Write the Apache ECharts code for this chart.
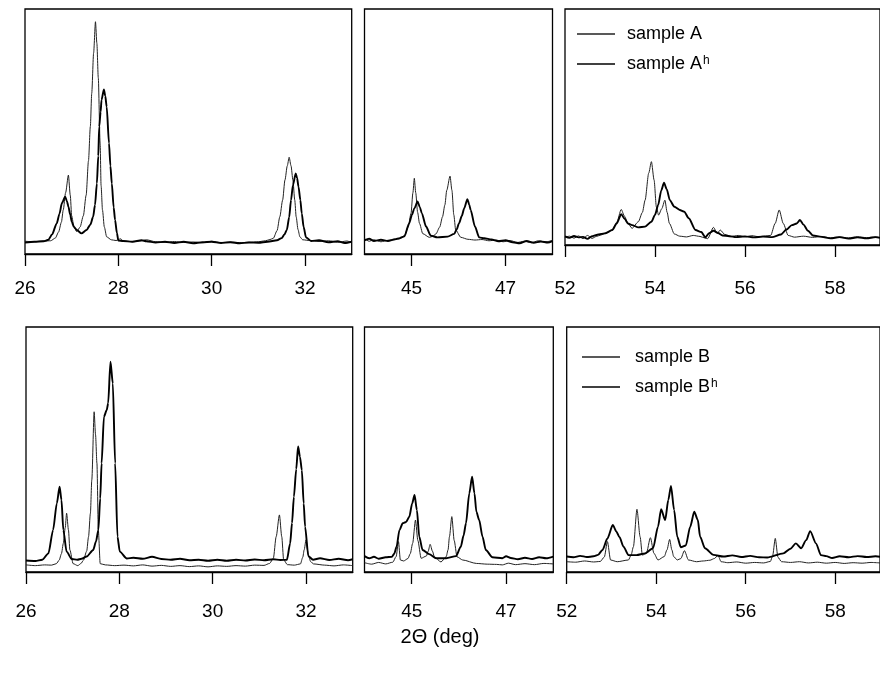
<!DOCTYPE html>
<html>
<head>
<meta charset="utf-8">
<script src="https://cdn.jsdelivr.net/npm/echarts@6/dist/echarts.min.js"></script>
<style>html,body{margin:0;padding:0;background:#fff;}#c{width:880px;height:678px;}</style>
</head>
<body>
<div id="c"></div>
<script>
// ---- tick labels ----
const ticksLeft = [26, 28, 30, 32];
const ticksMid = [45, 47];
const ticksRight = [52, 54, 56, 58];
const xTitle = '2\u0398 (deg)';
const legendTop = ['sample A', 'sample Ah'];
const legendBottom = ['sample B', 'sample Bh'];

// ---- top row: sample A (thin) / sample A^h (thick) ----
const sampleA_1 = [[26.0,5.2],[26.2,5.0],[26.4,5.3],[26.55,5.4],[26.65,6.5],[26.72,9],[26.78,13],[26.82,18],[26.87,25],[26.93,32.2],[26.97,24],[27.0,15.6],[27.05,11],[27.11,9.1],[27.18,11],[27.25,15.6],[27.31,24],[27.36,38],[27.40,52],[27.43,65.6],[27.47,82],[27.51,94.8],[27.54,86],[27.57,72],[27.61,45],[27.63,28],[27.66,18],[27.70,11],[27.75,7],[27.85,5.8],[27.95,5.5],[28.05,6.2],[28.1,5.4],[28.3,5.0],[28.5,5.4],[28.6,5.8],[28.8,5.0],[29.0,4.8],[29.2,5.1],[29.4,4.7],[29.6,4.9],[29.8,4.6],[30.0,5.2],[30.2,4.7],[30.4,4.9],[30.6,4.6],[30.8,4.8],[31.0,5.0],[31.15,5.4],[31.25,5.9],[31.32,6.4],[31.4,9.5],[31.46,15.2],[31.52,22],[31.57,30.2],[31.62,36],[31.66,39.5],[31.70,36],[31.74,30.2],[31.78,22],[31.81,15.2],[31.85,10],[31.89,7],[31.95,5.8],[32.1,5.5],[32.3,5.1],[32.5,5.4],[32.7,4.8],[32.9,5.3],[33.0,4.6]];
const sampleAh_1 = [[26.0,4.7],[26.2,5.0],[26.4,5.2],[26.5,5.8],[26.58,8],[26.68,12.5],[26.74,16.5],[26.79,20.7],[26.86,23.4],[26.9,21.5],[26.93,19.3],[26.97,16],[27.0,13.2],[27.05,11],[27.11,9.8],[27.21,8.4],[27.32,9.8],[27.4,12],[27.46,15.2],[27.5,20],[27.54,28.8],[27.57,40],[27.59,52],[27.62,58],[27.64,62.9],[27.69,67.2],[27.72,64.5],[27.75,60.1],[27.80,45.2],[27.83,36],[27.86,28.8],[27.9,19],[27.93,13.9],[27.97,8.5],[28.0,5.5],[28.1,5.3],[28.3,5.0],[28.5,5.6],[28.6,5.2],[28.8,4.7],[29.0,5.0],[29.2,4.5],[29.4,5.0],[29.6,4.4],[29.8,4.8],[30.0,5.0],[30.2,4.5],[30.4,4.8],[30.6,4.4],[30.8,4.7],[31.0,4.6],[31.2,5.0],[31.4,5.6],[31.5,6.5],[31.56,8],[31.61,9.8],[31.66,15],[31.70,22],[31.74,28],[31.80,32.9],[31.83,31],[31.86,27.5],[31.9,22],[31.93,16.6],[31.97,11],[32.02,6.8],[32.13,5.3],[32.3,5.6],[32.5,4.8],[32.7,5.2],[32.85,4.5],[33.0,5.0]];
const sampleA_2 = [[44.0,6.3],[44.1,5.2],[44.2,5.8],[44.35,5.0],[44.5,5.6],[44.65,5.9],[44.75,6.2],[44.85,7.5],[44.93,11],[44.99,16.6],[45.03,25],[45.06,30.9],[45.09,25],[45.13,17],[45.17,12.5],[45.24,8.3],[45.38,6.8],[45.45,7.2],[45.52,8.2],[45.6,11],[45.66,15.2],[45.71,20],[45.75,26],[45.82,31.8],[45.86,26],[45.9,16],[45.94,9.8],[46.05,6.8],[46.2,6.0],[46.35,5.7],[46.5,5.9],[46.65,5.4],[46.8,5.7],[46.95,5.0],[47.1,5.5],[47.25,4.7],[47.4,5.2],[47.55,4.6],[47.7,5.4],[47.85,4.9],[48.0,5.6]];
const sampleAh_2 = [[44.0,5.6],[44.1,6.2],[44.2,5.3],[44.35,5.8],[44.5,5.3],[44.65,6.0],[44.75,6.5],[44.85,7.2],[44.95,12.5],[45.01,16],[45.06,18.6],[45.13,21.4],[45.18,19],[45.22,16.6],[45.31,11.2],[45.41,7.5],[45.55,6.8],[45.77,7.1],[45.91,8.2],[45.96,10],[46.01,12.5],[46.07,15.5],[46.12,18.6],[46.19,22.4],[46.23,20],[46.26,17.9],[46.35,11.2],[46.44,6.8],[46.55,6.4],[46.7,5.9],[46.85,5.2],[47.0,5.6],[47.15,4.8],[47.3,4.4],[47.45,5.3],[47.6,4.6],[47.75,5.1],[47.9,4.7],[48.0,5.3]];
const sampleA_3 = [[52.0,6.8],[52.1,7.3],[52.2,6.5],[52.3,7.4],[52.4,6.3],[52.5,7.6],[52.6,6.4],[52.7,7.2],[52.8,7.8],[52.9,8.5],[53.05,9.8],[53.15,13],[53.25,18.2],[53.32,15.5],[53.4,12.5],[53.49,10.5],[53.63,13.2],[53.72,17],[53.78,22],[53.86,33],[53.92,37.7],[53.98,30.2],[54.03,19.3],[54.08,15.9],[54.15,18.5],[54.22,22],[54.27,17],[54.32,12.5],[54.43,8.2],[54.55,7.3],[54.7,7.0],[54.85,7.6],[55.0,7.2],[55.1,6.6],[55.17,6.3],[55.3,10.9],[55.38,8.5],[55.45,9.8],[55.55,8.0],[55.7,7.2],[55.85,7.6],[56.0,7.0],[56.15,7.5],[56.3,7.1],[56.45,7.4],[56.57,7.6],[56.67,12.5],[56.76,18],[56.85,12.5],[56.96,7.6],[57.1,6.9],[57.3,7.3],[57.5,6.8],[57.7,7.2],[57.9,6.6],[58.1,7.0],[58.3,6.6],[58.5,7.1],[58.7,6.7],[58.9,7.0],[59.0,6.8]];
const sampleAh_3 = [[52.0,7.2],[52.1,6.6],[52.2,7.4],[52.3,6.8],[52.4,7.0],[52.5,6.2],[52.6,7.3],[52.7,7.8],[52.8,8.2],[52.9,8.5],[53.05,9.8],[53.15,12.5],[53.25,16.3],[53.32,14.5],[53.4,12.5],[53.49,11.8],[53.63,10.9],[53.78,11.2],[53.92,13.2],[54.0,16],[54.07,20],[54.14,26],[54.2,29.1],[54.26,26.5],[54.33,22],[54.43,19.3],[54.55,18],[54.65,17.3],[54.75,14.6],[54.9,9.8],[55.03,9.0],[55.12,6.8],[55.2,8.5],[55.3,9.5],[55.4,8.6],[55.5,7.6],[55.65,7.3],[55.8,6.9],[56.0,7.2],[56.2,6.8],[56.4,7.1],[56.6,6.9],[56.8,8.0],[56.92,10],[57.04,11.8],[57.15,12.5],[57.22,13.9],[57.3,12],[57.4,9.5],[57.51,7.6],[57.7,7.0],[57.9,6.4],[58.1,6.9],[58.3,6.3],[58.5,6.8],[58.7,6.4],[58.9,6.9],[59.0,6.6]];

// ---- bottom row: sample B (thin) / sample B^h (thick) ----
const sampleB_1 = [[26.0,2.9],[26.2,2.6],[26.4,2.9],[26.55,2.8],[26.65,3.4],[26.71,4.8],[26.76,7.5],[26.80,11.7],[26.84,18],[26.87,24],[26.91,17.1],[26.94,9.0],[27.01,3.4],[27.11,2.6],[27.18,3.5],[27.23,4.8],[27.3,8.5],[27.34,14.4],[27.38,24],[27.41,37.6],[27.46,65.4],[27.49,56],[27.52,44.4],[27.55,17.1],[27.59,3.4],[27.7,2.9],[27.9,2.6],[28.1,2.8],[28.3,2.5],[28.5,2.9],[28.7,2.4],[28.9,2.7],[29.1,2.3],[29.3,2.6],[29.5,2.2],[29.7,2.5],[29.9,2.1],[30.1,2.5],[30.3,2.3],[30.5,2.6],[30.7,2.4],[30.9,2.8],[31.1,2.7],[31.22,3.5],[31.3,5.6],[31.36,14.4],[31.43,23.3],[31.48,14.4],[31.52,5],[31.6,3.0],[31.75,2.8],[31.88,3.3],[31.93,6],[31.96,9],[32.0,13.1],[32.05,6.9],[32.1,4.2],[32.16,3.3],[32.4,2.8],[32.6,2.5],[32.8,2.9],[33.0,2.6]];
const sampleBh_1 = [[26.0,4.7],[26.2,4.5],[26.35,5.0],[26.48,7.6],[26.58,17.1],[26.66,28],[26.72,34.8],[26.76,29.4],[26.80,17.1],[26.87,8.3],[26.98,5.3],[27.1,5.0],[27.19,5.4],[27.3,6.3],[27.44,9.0],[27.5,12.5],[27.55,17.1],[27.59,30],[27.62,44.4],[27.67,63.4],[27.73,66.1],[27.76,68.9],[27.81,85.8],[27.86,77],[27.91,44.4],[27.96,14.4],[28.01,8.3],[28.16,5.5],[28.3,5.8],[28.5,5.4],[28.7,6.2],[28.9,5.3],[29.1,5.0],[29.3,5.4],[29.5,4.8],[29.7,5.0],[29.9,4.6],[30.1,5.0],[30.3,4.6],[30.5,5.0],[30.7,4.7],[30.9,5.1],[31.1,4.8],[31.3,5.2],[31.45,4.9],[31.59,5.0],[31.66,11.7],[31.7,20],[31.74,30.7],[31.79,42],[31.83,51.2],[31.87,47],[31.91,41.6],[31.95,28],[31.98,18.5],[32.05,6.4],[32.15,5.0],[32.3,5.6],[32.5,4.9],[32.7,5.4],[32.9,4.8],[33.0,5.2]];
const sampleB_2 = [[44.0,3.8],[44.15,3.2],[44.3,3.9],[44.45,3.3],[44.6,4.0],[44.67,6.3],[44.72,12.4],[44.76,4.9],[44.83,4.5],[44.92,5.5],[44.97,7.5],[45.02,11.7],[45.08,21.2],[45.13,12.9],[45.2,5.6],[45.31,6.5],[45.35,8.5],[45.39,11.3],[45.44,8.5],[45.48,6.2],[45.62,4.1],[45.73,6.2],[45.77,9],[45.8,14.4],[45.85,22.6],[45.9,12.9],[45.96,6.2],[46.08,4.9],[46.37,3.5],[46.6,3.2],[46.8,3.1],[46.92,2.9],[47.05,3.6],[47.2,3.0],[47.4,3.4],[47.6,3.0],[47.8,3.5],[48.0,3.3]];
const sampleBh_2 = [[44.0,6.5],[44.1,5.6],[44.2,6.2],[44.3,5.4],[44.45,6.0],[44.58,6.2],[44.63,7.5],[44.68,10.3],[44.74,17.1],[44.81,19.9],[44.88,20.4],[44.95,22.6],[45.01,28],[45.06,31.4],[45.11,25.3],[45.16,14.4],[45.23,9.0],[45.37,7.3],[45.52,5.6],[45.73,5.6],[45.94,6.5],[46.04,10.3],[46.1,15],[46.15,19.9],[46.22,32.1],[46.28,38.9],[46.33,32.1],[46.37,24.6],[46.43,21.2],[46.5,14.4],[46.57,9.0],[46.71,6.0],[46.92,5.6],[47.0,6.4],[47.1,5.7],[47.25,5.2],[47.4,5.8],[47.55,5.3],[47.7,6.0],[47.85,5.6],[48.0,6.3]];
const sampleB_3 = [[52.0,4.2],[52.2,4.0],[52.4,4.5],[52.6,4.1],[52.75,4.3],[52.84,6.1],[52.91,12.4],[52.98,4.9],[53.13,4.2],[53.38,4.9],[53.44,7],[53.49,10.3],[53.57,25.6],[53.64,14.4],[53.69,6.9],[53.78,7.6],[53.87,14],[53.95,7.6],[54.04,4.9],[54.18,6.3],[54.24,9],[54.3,13.3],[54.35,9],[54.39,6.3],[54.47,4.9],[54.55,5.5],[54.63,8.7],[54.72,4.9],[54.9,4.2],[55.05,4.5],[55.2,4.8],[55.3,5.5],[55.38,6.8],[55.45,4.2],[55.6,3.8],[55.8,4.1],[56.0,3.6],[56.2,3.9],[56.4,3.7],[56.55,4.3],[56.6,6.5],[56.66,13.7],[56.72,6.0],[56.8,4.2],[57.0,3.9],[57.2,4.2],[57.4,3.7],[57.6,4.0],[57.8,3.6],[58.0,3.9],[58.2,3.5],[58.4,3.8],[58.6,3.6],[58.8,3.9],[59.0,3.7]];
const sampleBh_3 = [[52.0,6.3],[52.15,6.0],[52.3,6.6],[52.45,6.1],[52.6,6.4],[52.7,7.0],[52.8,9.0],[52.91,13.7],[53.03,19.2],[53.11,16.5],[53.18,14.2],[53.27,10.3],[53.38,6.9],[53.56,6.9],[53.75,7.6],[53.93,9.7],[54.04,18.5],[54.11,25.6],[54.2,21.2],[54.27,29.4],[54.33,35.1],[54.4,25.3],[54.47,14.4],[54.55,10.1],[54.66,10.8],[54.76,18.5],[54.85,24.6],[54.93,21.2],[54.98,14.4],[55.09,9.7],[55.28,7.0],[55.5,6.3],[55.7,6.8],[55.9,6.1],[56.1,6.6],[56.3,6.0],[56.48,5.9],[56.84,7.6],[57.0,9.5],[57.12,11.7],[57.24,9.7],[57.35,13],[57.44,16.7],[57.57,11.7],[57.68,6.9],[57.8,6.5],[57.93,5.7],[58.1,6.4],[58.3,6.0],[58.5,6.5],[58.7,6.1],[58.9,6.4],[59.0,6.2]];

const FONT = '"Liberation Sans", Arial, sans-serif';
const chart = echarts.init(document.getElementById('c'), null, {renderer: 'canvas'});

const grids = [
  {left: 25, top: 9, width: 326.7, height: 245},
  {left: 364.5, top: 9, width: 188, height: 245},
  {left: 565, top: 9, width: 322, height: 236},
  {left: 26, top: 327, width: 326.7, height: 245},
  {left: 364.5, top: 327, width: 188.8, height: 245},
  {left: 566.7, top: 327, width: 320.8, height: 245}
].map(g => Object.assign(g, {show: true, borderColor: '#000', borderWidth: 1.3, backgroundColor: 'transparent', containLabel: false}));

const ranges = [[26, 33, ticksLeft], [44, 48, ticksMid], [52, 59, ticksRight]];
const labelMargins = [25, 25, 34, 30, 30, 30];

const xAxes = grids.map((g, i) => {
  const r = ranges[i % 3];
  return {
    type: 'value', gridIndex: i, min: r[0], max: r[1],
    axisLine: {show: true, onZero: false, lineStyle: {color: '#000', width: 1.3}},
    axisTick: {show: true, length: 12, lineStyle: {color: '#000', width: 1.3}, customValues: r[2]},
    axisLabel: {show: true, customValues: r[2], color: '#000', fontSize: 19, fontFamily: FONT, margin: labelMargins[i]},
    splitLine: {show: false}
  };
});
const yAxes = grids.map((g, i) => ({
  type: 'value', gridIndex: i, show: false,
  min: i === 2 ? 3.7 : 0, max: 100,
  splitLine: {show: false}
}));

const thin = {color: '#222', width: 1};
const thick = {color: '#000', width: 1.9};
function mk(name, data, idx, style) {
  return {type: 'line', name: name, data: data, xAxisIndex: idx, yAxisIndex: idx,
    symbol: 'none', showSymbol: false, smooth: 0.25, smoothMonotone: 'x',
    lineStyle: style, itemStyle: {color: style.color},
    animation: false, silent: true};
}
const series = [
  mk('sample A', sampleA_1, 0, thin), mk('sample Ah', sampleAh_1, 0, thick),
  mk('sample A', sampleA_2, 1, thin), mk('sample Ah', sampleAh_2, 1, thick),
  mk('sample A', sampleA_3, 2, thin), mk('sample Ah', sampleAh_3, 2, thick),
  mk('sample B', sampleB_1, 3, thin), mk('sample Bh', sampleBh_1, 3, thick),
  mk('sample B', sampleB_2, 4, thin), mk('sample Bh', sampleBh_2, 4, thick),
  mk('sample B', sampleB_3, 5, thin), mk('sample Bh', sampleBh_3, 5, thick)
];

function legendFmt(n) {
  if (n.endsWith('h')) return n.slice(0, -1) + '{sup|h}';
  return n;
}
function mkLegend(data, left, top, pad) {
  return {
    data: data, left: left, top: top, padding: 0, orient: 'vertical',
    icon: 'rect', itemWidth: 38, itemHeight: 1.3, itemGap: 12,
    selectedMode: false, formatter: legendFmt,
    textStyle: {color: '#000', fontSize: 18, fontFamily: FONT, padding: [0, 0, 0, pad],
      rich: {sup: {fontSize: 12, fontFamily: FONT, color: '#000', verticalAlign: 'top', lineHeight: 6, padding: [0, 0, 0, 1]}}}
  };
}

chart.setOption({
  backgroundColor: '#fff',
  animation: false,
  title: {text: xTitle, left: 'center', top: 627, padding: 0, textStyle: {color: '#000', fontSize: 20, fontWeight: 'normal', fontFamily: FONT}},
  legend: [mkLegend(legendTop, 577, 25, 7), mkLegend(legendBottom, 582, 348, 10)],
  grid: grids,
  xAxis: xAxes,
  yAxis: yAxes,
  series: series
});
</script>
</body>
</html>
